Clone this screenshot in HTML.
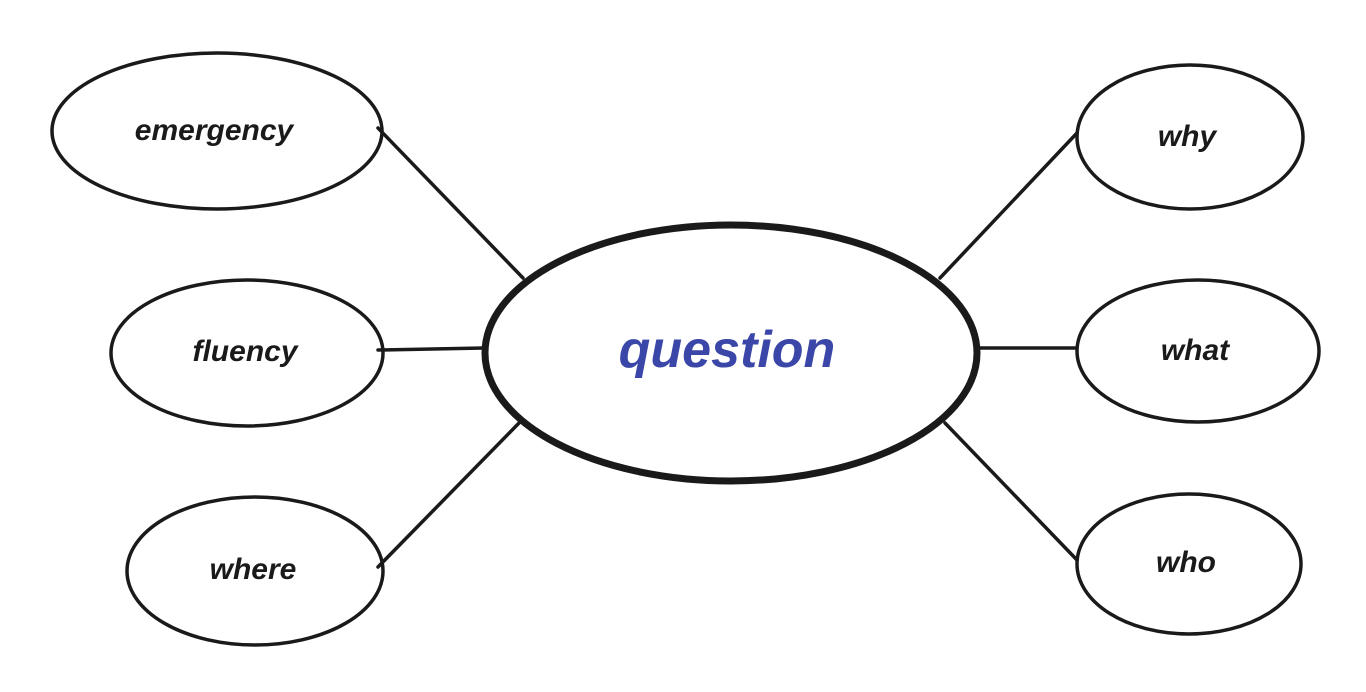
<!DOCTYPE html>
<html><head><meta charset="utf-8"><style>
html,body{margin:0;padding:0;background:#fff;width:1366px;height:692px;overflow:hidden}
text{font-family:"Liberation Sans",sans-serif;font-weight:bold;font-style:italic}
</style></head><body>
<svg width="1366" height="692" viewBox="0 0 1366 692" xmlns="http://www.w3.org/2000/svg">
<g stroke="#1a1a1a" stroke-width="3.5" fill="none" stroke-linecap="round">
<line x1="378" y1="128" x2="523" y2="278"/>
<line x1="378" y1="350" x2="484" y2="348"/>
<line x1="378" y1="567" x2="520" y2="422"/>
<line x1="940" y1="278" x2="1077" y2="133"/>
<line x1="980" y1="348" x2="1077" y2="348"/>
<line x1="945" y1="423" x2="1077" y2="560"/>
<ellipse cx="217" cy="131" rx="165" ry="78"/>
<ellipse cx="247" cy="353" rx="136" ry="73"/>
<ellipse cx="255" cy="571" rx="128" ry="74"/>
<ellipse cx="1190" cy="137" rx="113" ry="72"/>
<ellipse cx="1198" cy="351" rx="121" ry="71"/>
<ellipse cx="1189" cy="564" rx="112" ry="70"/>
<ellipse cx="731" cy="353" rx="246" ry="128" stroke-width="7"/>
</g>
<g fill="#1a1a1a" font-size="30" text-anchor="middle">
<text x="214" y="140">emergency</text>
<text x="245" y="361">fluency</text>
<text x="253" y="579">where</text>
<text x="1187" y="146">why</text>
<text x="1195" y="360">what</text>
<text x="1186" y="572">who</text>
</g>
<text x="727" y="367" font-size="52" fill="#3b47a8" text-anchor="middle">question</text>
</svg>
</body></html>
